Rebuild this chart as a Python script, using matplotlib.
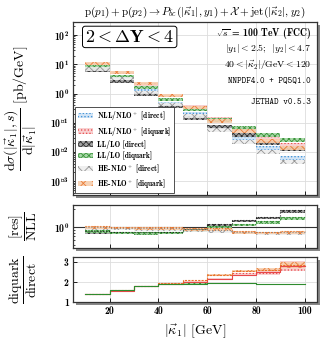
import numpy as np
import matplotlib
matplotlib.use("Agg")
import matplotlib.pyplot as plt
from matplotlib.patches import Rectangle
from matplotlib.ticker import NullFormatter

plt.rcParams['mathtext.fontset'] = 'cm'
plt.rcParams['font.family'] = 'serif'
plt.rcParams['font.serif'] = ['cmr10', 'DejaVu Serif']
plt.rcParams['axes.formatter.use_mathtext'] = True
plt.rcParams['hatch.linewidth'] = 0.6

# kappa_1 bins [GeV]
edges = [10, 20, 30, 40, 50, 60, 70, 80, 90, 100]

# main panel: d sigma / d|kappa_1| [pb/GeV], central values
nll_dir = [7.5, 3.5, 1.25, 0.47, 0.20, 0.070, 0.031, 0.014, 0.0062]
nll_diq = [10.3, 5.2, 2.1, 0.85, 0.36, 0.135, 0.062, 0.030, 0.017]
ll_dir = [6.0, 2.7, 0.95, 0.36, 0.15, 0.075, 0.038, 0.021, 0.013]
ll_diq = [8.2, 4.0, 1.6, 0.62, 0.29, 0.13, 0.068, 0.040, 0.026]
he_dir = [7.0, 3.2, 1.1, 0.42, 0.17, 0.058, 0.022, 0.010, 0.0046]
he_diq = [11.0, 5.5, 2.2, 0.86, 0.34, 0.118, 0.053, 0.025, 0.014]
# relative half width of the uncertainty bands
rel_unc = [0.12, 0.12, 0.13, 0.13, 0.14, 0.15, 0.15, 0.16, 0.17]

# middle panel: [res]/NLL
r_ll_dir = [0.82, 0.80, 0.79, 0.80, 0.88, 1.05, 1.25, 1.40, 1.80]
r_ll_diq = [0.85, 0.80, 0.78, 0.80, 0.87, 0.97, 1.08, 1.18, 1.38]
r_he_dir = [0.95, 0.93, 0.92, 0.90, 0.88, 0.85, 0.80, 0.78, 0.78]
r_he_diq = [0.97, 0.96, 0.95, 0.94, 0.92, 0.92, 0.82, 0.80, 0.81]

# bottom panel: diquark/direct
q_ll = [1.40, 1.60, 1.80, 1.90, 1.92, 1.93, 1.93, 1.88, 1.88]
q_nll = [1.38, 1.57, 1.78, 1.92, 2.02, 2.15, 2.37, 2.50, 2.80]
q_he = [1.40, 1.60, 1.80, 1.95, 2.10, 2.35, 2.55, 2.62, 2.85]
q_nll_unc = [0.02, 0.02, 0.02, 0.03, 0.04, 0.05, 0.07, 0.13, 0.27]

styles = {
    'nll_dir': dict(color='#3a8fd6', face='#cfe3f5', hatch='.....', label=r'NLL/NLO$^+$ [direct]'),
    'nll_diq': dict(color='#e8474a', face='#f8cccc', hatch='.....', label=r'NLL/NLO$^+$ [diquark]'),
    'll_dir': dict(color='#222222', face='#9a9a9a', hatch='xxxxxx', label=r'LL/LO [direct]'),
    'll_diq': dict(color='#2e8b2e', face='#9fd49f', hatch='xxxxxx', label=r'LL/LO [diquark]'),
    'he_dir': dict(color='#8a8a8a', face='#eeeeee', hatch='xxx', label=r'HE-NLO$^+$ [direct]'),
    'he_diq': dict(color='#e8732a', face='#f7cfae', hatch='xxx', label=r'HE-NLO$^+$ [diquark]'),
}


def band(ax, lo, hi, st, label=None):
    lo = list(lo) + [lo[-1]]
    hi = list(hi) + [hi[-1]]
    return ax.fill_between(edges, lo, hi, step='post', facecolor=st['face'],
                           edgecolor=st['color'], hatch=st['hatch'], linewidth=0,
                           alpha=0.9, label=label)


def step_line(ax, vals, st, ls='-', lw=0.9):
    ax.step(edges, list(vals) + [vals[-1]], where='post', color=st['color'], lw=lw, ls=ls)


W, H = 323, 343
fig = plt.figure(figsize=(W / 100, H / 100), dpi=100)

def px_axes(x0, y0, x1, y1):
    rect = [x0 / W, 1 - y1 / H, (x1 - x0) / W, (y1 - y0) / H]
    shadow = Rectangle((rect[0] + 2.5 / W, rect[1] - 2.5 / H), rect[2], rect[3],
                       transform=fig.transFigure, facecolor='#888888', edgecolor='none',
                       zorder=-1)
    fig.patches.append(shadow)
    return fig.add_axes(rect)

ax1 = px_axes(73, 22, 317, 195)
ax2 = px_axes(73, 205, 317, 248)
ax3 = px_axes(73, 257, 317, 302)

# ---- main panel
series = [('nll_dir', nll_dir), ('nll_diq', nll_diq), ('ll_dir', ll_dir),
          ('ll_diq', ll_diq), ('he_dir', he_dir), ('he_diq', he_diq)]
handles = []
for key, vals in series:
    v = np.array(vals)
    u = np.array(rel_unc)
    h = band(ax1, v * (1 - u), v * (1 + u), styles[key], label=styles[key]['label'])
    handles.append(h)

ax1.set_yscale('log')
ax1.set_ylim(10 ** -3.47, 10 ** 2.45)
ax1.set_yticks([1e-3, 1e-2, 1e-1, 1e0, 1e1, 1e2])
ax1.set_title(r'$\mathrm{p}(p_1) + \mathrm{p}(p_2) \to P_{\bar{b}c}(|\vec{\kappa}_1|, y_1) + \mathcal{X} + \mathrm{jet}(|\vec{\kappa}_2|, y_2)$',
              fontsize=8, pad=5)
ax1.set_ylabel(r'$\dfrac{\mathrm{d}\sigma(|\vec{\kappa}_1|, s)}{\mathrm{d}|\vec{\kappa}_1|}$ [pb/GeV]',
               fontsize=10)
ax1.tick_params(labelbottom=False)

ax1.text(0.05, 0.96, r'$\mathbf{2 < \Delta Y < 4}$', transform=ax1.transAxes,
         fontsize=13, ha='left', va='top',
         bbox=dict(boxstyle='round,pad=0.15', facecolor='white', edgecolor='black', lw=0.7))
ax1.text(0.975, 0.936, r'$\sqrt{s}$ = 100 TeV (FCC)', transform=ax1.transAxes,
         ha='right', va='center', fontsize=7, family='cmb10')
ax1.text(0.975, 0.844, r'$|y_1| < 2.5$;  $|y_2| < 4.7$', transform=ax1.transAxes,
         ha='right', va='center', fontsize=7)
ax1.text(0.975, 0.752, r'$40 < |\vec{\kappa}_2|/\mathrm{GeV} < 120$', transform=ax1.transAxes,
         ha='right', va='center', fontsize=7)
ax1.text(0.975, 0.659, 'NNPDF4.0 + PQ5Q1.0', transform=ax1.transAxes,
         ha='right', va='center', fontsize=6.3, family='cmtt10')
ax1.text(0.975, 0.535, 'JETHAD v0.5.3', transform=ax1.transAxes,
         ha='right', va='center', fontsize=6.3, family='cmtt10')

leg = ax1.legend(handles=handles, loc='lower left', frameon=True,
                 fancybox=False, edgecolor='#333333', framealpha=1,
                 handlelength=2.0, handleheight=0.75, labelspacing=0.3,
                 borderaxespad=0.3, borderpad=0.35, handletextpad=0.6,
                 prop=dict(family='cmb10', size=5.4))
leg.get_frame().set_linewidth(0.6)

# ---- ratio to NLL
ax2.axhline(1.0, color='#333333', lw=0.8, zorder=1)
ratios = [('ll_dir', r_ll_dir), ('ll_diq', r_ll_diq), ('he_dir', r_he_dir), ('he_diq', r_he_diq)]
for key, vals in ratios:
    v = np.array(vals)
    band(ax2, v * 0.95, v * 1.05, styles[key])
    step_line(ax2, v * 1.05, styles[key], ls=':', lw=0.8)
ax2.set_yscale('log')
ax2.set_ylim(0.45, 2.3)
ax2.set_yticks([1.0])
ax2.yaxis.set_minor_formatter(NullFormatter())
ax2.set_ylabel(r'$\dfrac{\mathrm{[res]}}{\mathrm{NLL}}$', fontsize=10)
ax2.tick_params(labelbottom=False)

# ---- diquark / direct
st_nll = styles['nll_diq']
st_he = styles['he_diq']
st_ll = styles['ll_diq']
qn = np.array(q_nll)
qu = np.array(q_nll_unc)
band(ax3, qn - qu, qn + qu, st_nll)
step_line(ax3, q_nll, st_nll, lw=0.8)
qh = np.array(q_he)
band(ax3, qh - qu * 0.6, qh + qu * 0.6, st_he)
step_line(ax3, q_he, st_he, ls=(0, (2, 1)), lw=0.8)
ql = np.array(q_ll)
band(ax3, ql - 0.02, ql + 0.02, st_ll)
step_line(ax3, q_ll, st_ll, lw=0.8)
ax3.set_ylim(1, 3.25)
ax3.set_yticks([1, 2, 3])
ax3.set_ylabel(r'$\dfrac{\mathrm{diquark}}{\mathrm{direct}}$', fontsize=10)
ax3.set_xlabel(r'$|\vec{\kappa}_1|$ [GeV]', fontsize=10, labelpad=4)

for ax in (ax1, ax2, ax3):
    ax.set_xlim(5, 105)
    ax.set_xticks([20, 40, 60, 80, 100])
    ax.grid(True, which='major', color='#dddddd', lw=0.6)
    ax.set_axisbelow(True)
    ax.tick_params(direction='in', length=3, width=0.6, labelsize=7, pad=3)
    ax.tick_params(which='minor', direction='in', length=1.5, width=0.5)
    for s in ax.spines.values():
        s.set_linewidth(0.9)
        s.set_color('#333333')
    for lab in ax.get_xticklabels() + ax.get_yticklabels():
        lab.set_fontfamily('cmb10')
    ax.yaxis.set_label_coords(-0.14, 0.5)

ax3.set_yticklabels(['1', '2', '3'])
ax3.set_xticklabels(['20', '40', '60', '80', '100'])

fig.savefig('out.png', dpi=100)
